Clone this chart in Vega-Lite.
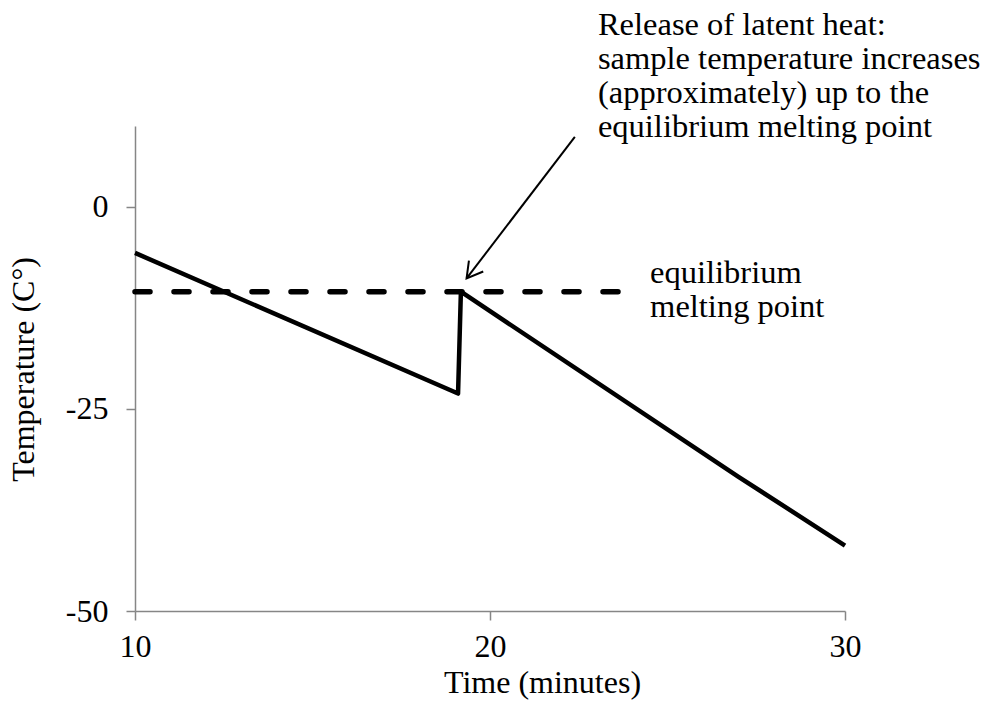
{
  "$schema": "https://vega.github.io/schema/vega-lite/v6.json",
  "width": 710,
  "height": 485,
  "autosize": "none",
  "padding": {"left": 135, "top": 126, "right": 138, "bottom": 95},
  "background": "white",
  "config": {"view": {"stroke": null}, "font": "Liberation Serif"},
  "datasets": {
    "sample": [
      {"time": 10, "temp": -5.7},
      {"time": 19.1, "temp": -23.1},
      {"time": 19.18, "temp": -10.5},
      {"time": 27, "temp": -33.4},
      {"time": 30, "temp": -41.9}
    ],
    "melting": [
      {"time": 10, "temp": -10.5},
      {"time": 23.9, "temp": -10.5}
    ],
    "arrow": [
      {"time": 22.39, "temp": 8.66, "time2": 19.34, "temp2": -8.86}
    ],
    "notes": [
      {"time": 23.04, "temp": 21.25, "label": "Release of latent heat:\nsample temperature increases\n(approximately) up to the\nequilibrium melting point"},
      {"time": 24.51, "temp": -9.44, "label": "equilibrium\nmelting point"}
    ]
  },
  "layer": [
    {
      "data": {"name": "sample"},
      "mark": {"type": "line", "color": "black", "strokeWidth": 4.5, "strokeJoin": "round", "strokeCap": "butt"},
      "encoding": {
        "x": {
          "field": "time", "type": "quantitative",
          "scale": {"domain": [10, 30], "nice": false, "zero": false},
          "axis": {
            "values": [10, 20, 30], "grid": false, "labelFlush": false,
            "labelExpr": "datum.value + ''",
            "domainColor": "#868686", "domainWidth": 1.5,
            "tickColor": "#868686", "tickWidth": 1.5, "tickSize": 9,
            "labelFont": "Liberation Serif", "labelFontSize": 32, "labelColor": "black", "labelPadding": 11,
            "title": "Time (minutes)", "titleFont": "Liberation Serif", "titleFontSize": 32,
            "titleFontWeight": "normal", "titleColor": "black",
            "titleX": 407, "titleY": 81, "titleBaseline": "alphabetic", "titleAlign": "center"
          }
        },
        "y": {
          "field": "temp", "type": "quantitative",
          "scale": {"domain": [-50, 10], "nice": false, "zero": false},
          "axis": {
            "values": [-50, -25, 0], "grid": false,
            "labelExpr": "datum.value + ''",
            "domainColor": "#868686", "domainWidth": 1.5,
            "tickColor": "#868686", "tickWidth": 1.5, "tickSize": 9,
            "labelFont": "Liberation Serif", "labelFontSize": 32, "labelColor": "black", "labelPadding": 18,
            "title": "Temperature (C°)", "titleFont": "Liberation Serif", "titleFontSize": 32,
            "titleFontWeight": "normal", "titleColor": "black",
            "titleAngle": 270, "titleX": -102, "titleY": 243, "titleBaseline": "alphabetic", "titleAlign": "center"
          }
        }
      }
    },
    {
      "data": {"name": "melting"},
      "mark": {"type": "line", "color": "black", "strokeWidth": 5.5, "strokeDash": [15, 24], "strokeCap": "round"},
      "encoding": {
        "x": {"field": "time", "type": "quantitative"},
        "y": {"field": "temp", "type": "quantitative"}
      }
    },
    {
      "data": {"name": "arrow"},
      "mark": {"type": "rule", "color": "black", "strokeWidth": 2},
      "encoding": {
        "x": {"field": "time", "type": "quantitative"},
        "y": {"field": "temp", "type": "quantitative"},
        "x2": {"field": "time2"},
        "y2": {"field": "temp2"}
      }
    },
    {
      "data": {"name": "arrow"},
      "mark": {
        "type": "point", "shape": "M-0.5,0.87L0,0L0.5,0.87", "filled": false,
        "stroke": "black", "strokeWidth": 2, "size": 1296, "angle": 217.4, "opacity": 1
      },
      "encoding": {
        "x": {"field": "time2", "type": "quantitative"},
        "y": {"field": "temp2", "type": "quantitative"}
      }
    },
    {
      "data": {"name": "notes"},
      "mark": {
        "type": "text", "align": "left", "baseline": "alphabetic", "lineBreak": "\n",
        "lineHeight": 34, "font": "Liberation Serif", "fontSize": 32.5, "color": "black"
      },
      "encoding": {
        "x": {"field": "time", "type": "quantitative"},
        "y": {"field": "temp", "type": "quantitative"},
        "text": {"field": "label", "type": "nominal"}
      }
    }
  ]
}
